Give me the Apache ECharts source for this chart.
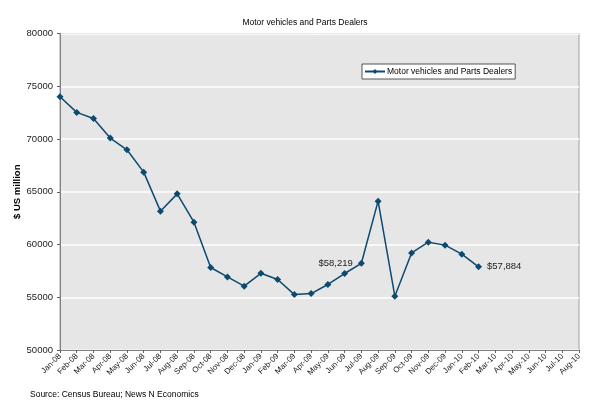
<!DOCTYPE html>
<html>
<head>
<meta charset="utf-8">
<script src="https://cdn.jsdelivr.net/npm/echarts@6/dist/echarts.min.js"></script>
<style>
html,body{margin:0;padding:0;background:#fff;}
#c{width:600px;height:409px;}
</style>
</head>
<body>
<div id="c"></div>
<script>
const categories = ["Jan-08","Feb-08","Mar-08","Apr-08","May-08","Jun-08","Jul-08","Aug-08","Sep-08","Oct-08","Nov-08","Dec-08",
  "Jan-09","Feb-09","Mar-09","Apr-09","May-09","Jun-09","Jul-09","Aug-09","Sep-09","Oct-09","Nov-09","Dec-09",
  "Jan-10","Feb-10","Mar-10","Apr-10","May-10","Jun-10","Jul-10","Aug-10"];
const dealerSales = [74000,72520,71950,70090,68980,66860,63160,64800,62110,57820,56930,56050,
  57270,56680,55250,55350,56210,57250,58219,64110,55100,59200,60220,59940,
  59080,57884,null,null,null,null,null,null];
const labelledPoints = {18:"left",25:"right"};
const yTicks = {min:50000,max:80000,interval:5000};

const font = "'Liberation Sans', Arial, sans-serif";
const chart = echarts.init(document.getElementById('c'), null, {renderer:'canvas'});
const seriesData = dealerSales.map((v,i)=>{
  if (labelledPoints[i]) {
    return {value:v,label:{show:true,position:labelledPoints[i],distance:5,
      formatter:p=>'$'+p.value.toLocaleString('en-US'),
      fontFamily:font,fontSize:9.5,color:'#222'}};
  }
  return v;
});
chart.setOption({
  animation:false,
  backgroundColor:'#fff',
  textStyle:{fontFamily:font},
  title:{text:'Motor vehicles and Parts Dealers',left:300,top:13,textAlign:'center',
    textStyle:{fontFamily:font,fontSize:8.5,fontWeight:'normal',color:'#000'}},
  legend:{left:362,top:64,itemWidth:20,itemHeight:6,itemGap:4,padding:[3,3,3,2],
    borderColor:'#555',borderWidth:1,backgroundColor:'#fff',
    textStyle:{fontFamily:font,fontSize:8.5,color:'#000',padding:[0,0,0,-3]},
    data:['Motor vehicles and Parts Dealers']},
  grid:{left:60,right:21,top:33.5,bottom:59,outerBoundsMode:'none',containLabel:false,
    show:true,backgroundColor:'#e6e6e6',borderColor:'#a0a0a0',borderWidth:1},
  xAxis:{type:'category',data:categories,boundaryGap:false,
    axisLine:{lineStyle:{color:'#808080',width:1}},
    axisTick:{show:true,alignWithLabel:true,length:3,lineStyle:{color:'#606060'}},
    axisLabel:{rotate:45,interval:0,fontFamily:font,fontSize:8,color:'#222',margin:5},
    splitLine:{show:false}},
  yAxis:{type:'value',min:yTicks.min,max:yTicks.max,interval:yTicks.interval,
    name:'$ US million',nameLocation:'middle',nameGap:38,nameRotate:90,nameMoveOverlap:false,
    nameTextStyle:{fontFamily:font,fontSize:9.5,fontWeight:'bold',color:'#000'},
    axisLine:{show:true,lineStyle:{color:'#808080',width:1}},
    axisTick:{show:true,length:3,lineStyle:{color:'#606060'}},
    axisLabel:{fontFamily:font,fontSize:9.5,color:'#222',margin:7,formatter:v=>String(v)},
    splitLine:{lineStyle:{color:'#ffffff',width:1.5}}},
  graphic:[{type:'text',left:30,top:390,style:{text:'Source: Census Bureau; News N Economics',
    font:'8.5px '+font,fill:'#000'}}],
  series:[{name:'Motor vehicles and Parts Dealers',type:'line',data:seriesData,
    symbol:'diamond',symbolSize:7,showAllSymbol:true,connectNulls:false,
    lineStyle:{color:'#0d4a70',width:1.5},
    itemStyle:{color:'#0d4a70'}}]
});
</script>
</body>
</html>
